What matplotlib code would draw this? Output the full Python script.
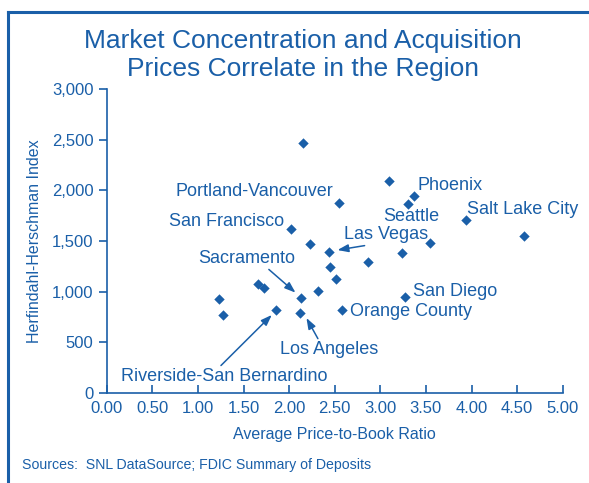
import matplotlib
matplotlib.use("Agg")
import matplotlib.pyplot as plt
from matplotlib.lines import Line2D

plt.rcParams['font.family'] = ['Liberation Sans', 'DejaVu Sans']

BLUE = '#1a5fa8'

# Average price-to-book ratio vs Herfindahl-Herschman index
pb_ratio = [2.15, 2.55, 3.10, 3.37, 3.30, 3.94, 4.58, 3.54, 3.24, 2.86,
            2.44, 2.45, 2.02, 2.23, 1.23, 1.28, 1.66, 1.72, 1.86, 2.13,
            2.12, 2.32, 2.51, 2.58, 3.27]
hhi = [2470, 1870, 2090, 1940, 1865, 1710, 1545, 1480, 1380, 1290,
       1390, 1245, 1615, 1470, 930, 770, 1075, 1040, 820, 940,
       790, 1005, 1125, 820, 945]

x_ticks = [0, 0.5, 1, 1.5, 2, 2.5, 3, 3.5, 4, 4.5, 5]
y_ticks = [0, 500, 1000, 1500, 2000, 2500, 3000]

fig = plt.figure(figsize=(5.89, 4.83), dpi=100)
ax = fig.add_axes([0.1812, 0.1863, 0.7742, 0.6298])

ax.scatter(pb_ratio, hhi, marker='D', s=28, color=BLUE, linewidths=0, zorder=3)

ax.set_xlim(0, 5)
ax.set_ylim(0, 3000)
ax.set_xticks(x_ticks)
ax.set_xticklabels(['%.2f' % v for v in x_ticks])
ax.set_yticks(y_ticks)
ax.set_yticklabels(['{:,}'.format(v) for v in y_ticks])

for s in ['top', 'right']:
    ax.spines[s].set_visible(False)
for s in ['left', 'bottom']:
    ax.spines[s].set_color(BLUE)
    ax.spines[s].set_linewidth(1.2)
ax.tick_params(axis='x', direction='in', length=6, width=1.2, color=BLUE,
               labelcolor=BLUE, labelsize=12, pad=6)
ax.tick_params(axis='y', direction='out', length=6, width=1.2, color=BLUE,
               labelcolor=BLUE, labelsize=12, pad=3.5)
ax.set_xlabel('Average Price-to-Book Ratio', color=BLUE, fontsize=11.5, labelpad=8)
ax.set_ylabel('Herfindahl-Herschman Index', color=BLUE, fontsize=11.5, labelpad=7)

lab = dict(color=BLUE, fontsize=13, va='center')
ax.text(2.48, 1990, 'Portland-Vancouver', ha='right', **lab)
ax.text(1.95, 1690, 'San Francisco', ha='right', **lab)
ax.text(3.41, 2050, 'Phoenix', ha='left', **lab)
ax.text(3.03, 1745, 'Seattle', ha='left', **lab)
ax.text(3.95, 1805, 'Salt Lake City', ha='left', **lab)
ax.text(3.36, 1005, 'San Diego', ha='left', **lab)
ax.text(2.67, 800, 'Orange County', ha='left', **lab)

arr = dict(arrowstyle='-|>,head_length=0.5,head_width=0.18', color=BLUE, lw=1.1,
           shrinkA=0, shrinkB=0)
ax.annotate('Las Vegas', xy=(2.53, 1410), xytext=(3.06, 1565), ha='center',
            arrowprops=dict(arr, relpos=(0.45, 0)), **lab)
ax.annotate('Sacramento', xy=(2.07, 990), xytext=(1.53, 1330), ha='center',
            arrowprops=dict(arr, relpos=(0.7, 0)), **lab)
ax.annotate('Los Angeles', xy=(2.19, 740), xytext=(2.44, 425), ha='center',
            arrowprops=dict(arr, relpos=(0.4, 1)), **lab)
ax.annotate('Riverside-San Bernardino', xy=(1.81, 770), xytext=(1.29, 160),
            ha='center', arrowprops=dict(arr, relpos=(0.47, 1)), **lab)

fig.text(0.514, 0.886, 'Market Concentration and Acquisition\nPrices Correlate in the Region',
         ha='center', va='center', color=BLUE, fontsize=19, linespacing=1.2)
fig.text(22 / 589, 1 - 465 / 483, 'Sources:  SNL DataSource; FDIC Summary of Deposits',
         ha='left', va='center', color=BLUE, fontsize=10.2)

# frame edges visible in the original crop
fig.add_artist(Line2D([8 / 589, 8 / 589], [0, 1 - 12 / 483], color=BLUE, lw=2.2,
                      transform=fig.transFigure))
fig.add_artist(Line2D([8 / 589, 1], [1 - 12 / 483, 1 - 12 / 483], color=BLUE, lw=2.2,
                      transform=fig.transFigure))

fig.savefig('out.png', dpi=100)
